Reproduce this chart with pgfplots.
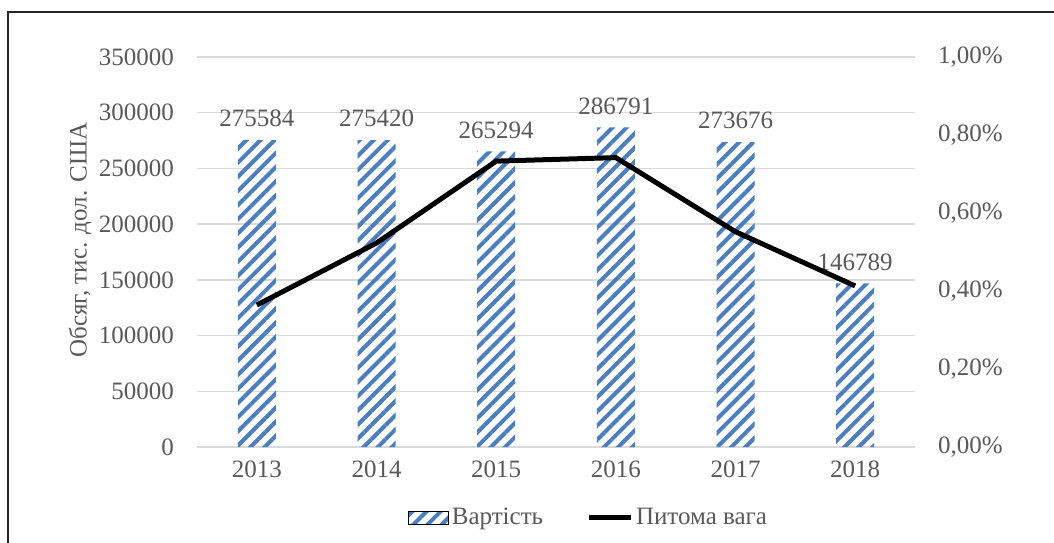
\documentclass[border=0pt]{standalone}
\usepackage{fontspec}
\setmainfont{Liberation Serif}
\usepackage{pgfplots}
\pgfplotsset{compat=1.18}
\usetikzlibrary{patterns.meta}
\definecolor{barblue}{RGB}{74,126,193}
\definecolor{txt}{RGB}{89,89,89}
\definecolor{gridc}{RGB}{217,217,217}
\begin{document}
\begin{tikzpicture}[font=\fontsize{12.5}{15}\selectfont]
\useasboundingbox (0,0) rectangle (527pt,271pt);
\draw[line width=1pt, black!85] (4pt,-2pt) -- (4pt,265pt) -- (530pt,265pt);
\pgfplotsset{
  common/.style={
    at={(98.5pt,47.5pt)}, anchor=south west,
    scale only axis, width=359pt, height=195pt,
    xmin=-0.5, xmax=5.5,
    tick style={draw=none},
    axis line style={draw=none},
    tick label style={text=txt},
    scaled y ticks=false,
    /pgf/number format/assume math mode=true,
  }
}
\begin{axis}[common,
  ymin=0, ymax=350000,
  xtick={0,1,2,3,4,5}, xticklabels={2013,2014,2015,2016,2017,2018},
  xticklabel style={yshift=-3.3pt},
  ytick={0,50000,100000,150000,200000,250000,300000,350000},
  yticklabels={0,50000,100000,150000,200000,250000,300000,350000},
  yticklabel style={xshift=-8pt},
  ymajorgrids, major grid style={gridc, line width=0.75pt},
  ylabel={Обсяг, тис. дол. США},
  ylabel style={at={(axis description cs:-0.163,0.531)}, anchor=center, rotate=0, text=txt},
  nodes near coords, point meta=explicit symbolic,
  nodes near coords style={text=txt, yshift=3pt},
]
\addplot[ybar, bar width=19pt, draw=none, pattern={Lines[angle=45,distance=5pt,line width=2pt]}, pattern color=barblue]
 coordinates {(0,275584)[275584] (1,275420)[275420] (2,265294)[265294] (3,286791)[286791] (4,273676)[273676] (5,146789)[146789]};
\end{axis}
\begin{axis}[common,
  ymin=0, ymax=1,
  axis y line*=right, axis x line=none,
  ytick={0,0.2,0.4,0.6,0.8,1},
  yticklabels={{0,00\%},{0,20\%},{0,40\%},{0,60\%},{0,80\%},{1,00\%}},
  yticklabel style={xshift=8pt},
  legend style={at={(0.546,-0.182)}, anchor=center, draw=none, fill=none, text=txt,
    legend columns=2,
    /tikz/every even column/.append style={column sep=20pt},
    nodes={inner sep=1.5pt}},
]
\addlegendimage{legend image code/.code={\fill[pattern={Lines[angle=45,distance=5pt,line width=2pt]}, pattern color=barblue] (0pt,-3.25pt) rectangle (20pt,3.25pt);}}
\addlegendentry{Вартість}
\addplot[black, line width=2.5pt, legend image code/.code={\draw[black,line width=2.5pt] (0pt,0pt) -- (21pt,0pt);}]
 coordinates {(0,0.364) (1,0.523) (2,0.733) (3,0.742) (4,0.552) (5,0.413)};
\addlegendentry{Питома вага}
\end{axis}
\end{tikzpicture}
\end{document}
